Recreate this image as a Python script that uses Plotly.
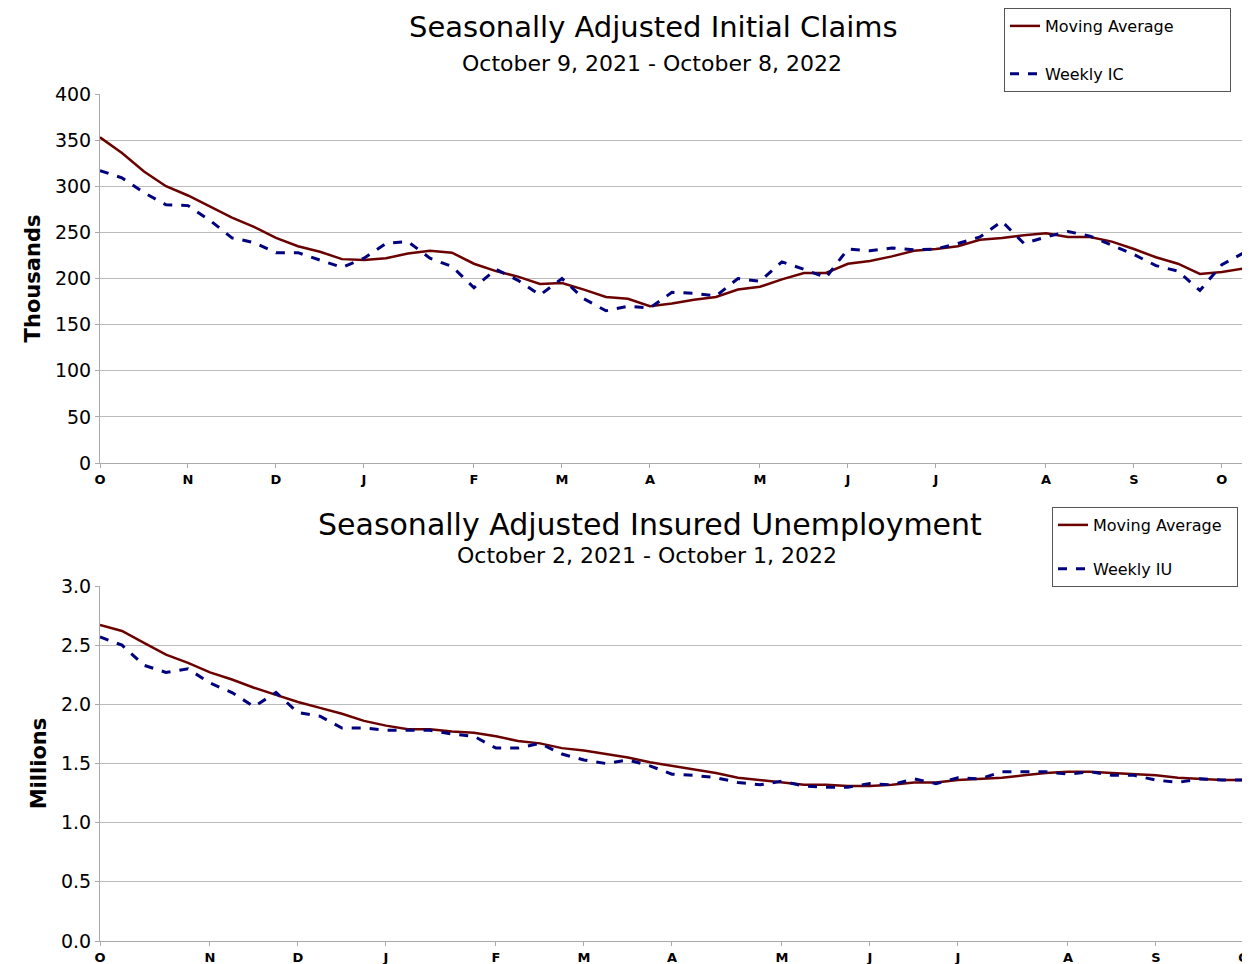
import plotly.graph_objects as go

ic_ma = [353,336,316,300,290,278,266,256,244,235,229,221,220,222,227,230,228,216,208,202,
         194,195,188,180,178,170,173,177,180,188,191,199,206,206,216,219,224,230,232,235,
         242,244,247,249,245,245,240,232,223,216,205,207,211]
ic_wk = [317,309,293,280,279,263,244,239,228,228,220,212,222,238,240,222,213,190,210,198,
         182,200,178,165,170,168,185,184,181,200,197,218,210,201,232,230,233,231,232,238,
         245,262,238,245,251,246,236,226,214,208,187,215,228]
iu_ma = [2.67,2.62,2.52,2.42,2.35,2.27,2.21,2.14,2.08,2.02,1.97,1.92,1.86,1.82,1.79,1.79,1.77,1.76,1.73,1.69,
         1.67,1.63,1.61,1.58,1.55,1.51,1.48,1.45,1.42,1.38,1.36,1.34,1.32,1.32,1.31,1.31,1.32,1.34,1.34,1.36,
         1.37,1.38,1.40,1.42,1.43,1.43,1.42,1.41,1.40,1.38,1.37,1.36,1.36]
iu_wk = [2.57,2.50,2.33,2.27,2.30,2.18,2.10,1.98,2.10,1.93,1.90,1.80,1.80,1.78,1.78,1.78,1.75,1.73,1.63,1.63,
         1.67,1.58,1.53,1.50,1.53,1.48,1.41,1.40,1.38,1.34,1.32,1.35,1.31,1.30,1.30,1.33,1.32,1.37,1.33,1.38,
         1.37,1.43,1.43,1.43,1.41,1.43,1.40,1.40,1.36,1.34,1.37,1.36,1.36]
month_labels = ["O","N","D","J","F","M","A","M","J","J","A","S","O"]
ic_tick_pos = [0,4,8,12,17,21,25,30,34,38,43,47,51]
iu_tick_pos = [0,5,9,13,18,22,26,31,35,39,44,48,52]

x = list(range(53))
RED = "#6b0000"; BLUE = "#00007f"
F = "DejaVu Sans"
NB = "\u00a0"
fig = go.Figure()
fig.add_trace(go.Scatter(x=x, y=ic_ma, name="Moving Average" + NB * 10, mode="lines", legendgroup="a",
                         line=dict(color=RED, width=2.5), legend="legend"))
fig.add_trace(go.Scatter(x=x, y=ic_wk, name="Weekly IC", mode="lines", legendgroup="b",
                         line=dict(color=BLUE, width=3, dash="dash"), legend="legend"))
fig.add_trace(go.Scatter(x=x, y=iu_ma, name="Moving Average" + NB * 2, mode="lines", xaxis="x2", yaxis="y2",
                         legendgroup="c", line=dict(color=RED, width=2.5), legend="legend2"))
fig.add_trace(go.Scatter(x=x, y=iu_wk, name="Weekly IU", mode="lines", xaxis="x2", yaxis="y2",
                         legendgroup="d", line=dict(color=BLUE, width=3, dash="dash"), legend="legend2"))

ax = dict(range=[0, 52.05], showgrid=False, showline=True, linecolor="#aaaaaa", automargin=False,
          ticks="outside", ticklen=4, tickcolor="#aaaaaa", tickmode="array",
          tickfont=dict(family=F, size=13, color="black", weight="bold"), zeroline=False)
ay = dict(showgrid=True, gridcolor="#bbbbbb", showline=True, linecolor="#aaaaaa", automargin=False,
          ticks="outside", ticklen=4, tickcolor="#aaaaaa", zeroline=False,
          tickfont=dict(family=F, size=19, color="black"))
leg = dict(bordercolor="#555555", borderwidth=1, bgcolor="white", xref="container", yref="container",
           font=dict(family=F, size=16, color="black"), xanchor="left", yanchor="top",
           traceorder="grouped", itemwidth=30)

def px(v): return (v - 100) / 1145
def py(v): return (941 - v) / 847

fig.update_layout(
    width=1250, height=964, paper_bgcolor="white", plot_bgcolor="white",
    margin=dict(l=92, r=13, t=86, b=31, autoexpand=False), showlegend=True,
    xaxis=dict(ax, domain=[0, 1], anchor="y", tickvals=ic_tick_pos, ticktext=month_labels),
    yaxis=dict(ay, domain=[py(463), 1], range=[0, 400], dtick=50, anchor="x",
               title=dict(text="Thousands", font=dict(family=F, size=21, color="black", weight="bold"), standoff=8)),
    xaxis2=dict(ax, domain=[0, 1], anchor="y2", tickvals=iu_tick_pos, ticktext=month_labels),
    yaxis2=dict(ay, domain=[0, py(586)], range=[0, 3], dtick=0.5, tickformat=".1f", anchor="x2",
                title=dict(text="Millions", font=dict(family=F, size=21, color="black", weight="bold"), standoff=8)),
    legend=dict(leg, x=996/1250, y=1.0, tracegroupgap=24),
    legend2=dict(leg, x=1044/1250, y=1-499/964, tracegroupgap=20),
    annotations=[
        dict(text="Seasonally Adjusted Initial Claims", x=px(653), y=py(27), xref="paper", yref="paper",
             showarrow=False, xanchor="center", yanchor="middle", font=dict(family=F, size=29, color="black")),
        dict(text="October 9, 2021 - October 8, 2022", x=px(652), y=py(63), xref="paper", yref="paper",
             showarrow=False, xanchor="center", yanchor="middle", font=dict(family=F, size=22, color="black")),
        dict(text="Seasonally Adjusted Insured Unemployment", x=px(650), y=py(524), xref="paper", yref="paper",
             showarrow=False, xanchor="center", yanchor="middle", font=dict(family=F, size=30, color="black")),
        dict(text="October 2, 2021 - October 1, 2022", x=px(647), y=py(555), xref="paper", yref="paper",
             showarrow=False, xanchor="center", yanchor="middle", font=dict(family=F, size=22, color="black")),
    ],
)
fig.write_html("out.html")
